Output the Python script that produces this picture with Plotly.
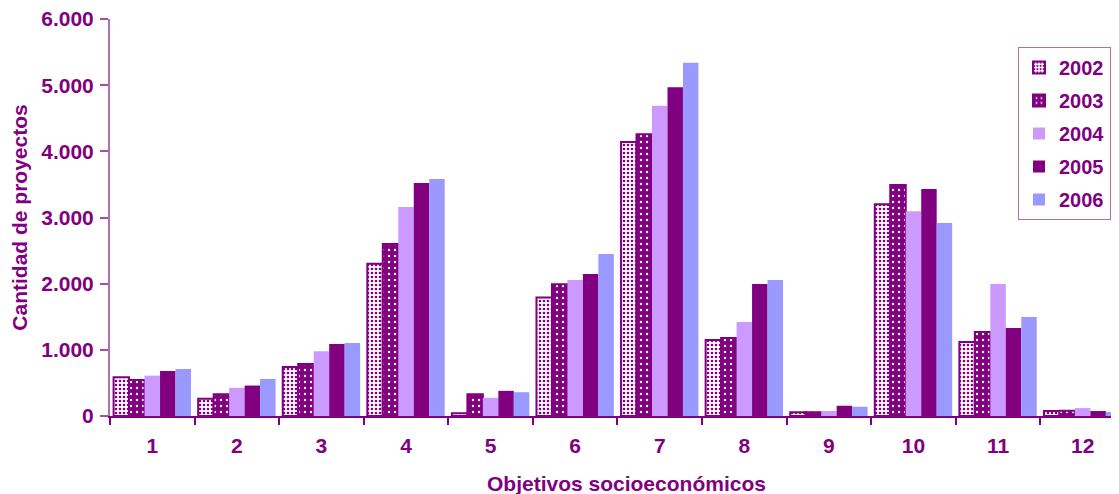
import plotly.graph_objects as go

categories = ["1", "2", "3", "4", "5", "6", "7", "8", "9", "10", "11", "12"]
years = ["2002", "2003", "2004", "2005", "2006"]
v2002 = [585, 262, 740, 2300, 40, 1790, 4140, 1150, 55, 3200, 1120, 75]
v2003 = [545, 330, 785, 2600, 330, 1990, 4260, 1180, 55, 3490, 1270, 80]
v2004 = [610, 425, 980, 3160, 275, 2055, 4690, 1420, 75, 3095, 1995, 120]
v2005 = [680, 460, 1090, 3520, 380, 2145, 4970, 1995, 155, 3430, 1330, 75]
v2006 = [710, 560, 1105, 3580, 360, 2450, 5340, 2055, 140, 2915, 1495, 60]
y_ticks = [0, 1000, 2000, 3000, 4000, 5000, 6000]

PURPLE = "#800080"
FONT = "Liberation Sans, Arial, sans-serif"

series = [v2002, v2003, v2004, v2005, v2006]
markers = [
    dict(color="white", line=dict(color=PURPLE, width=2),
         pattern=dict(shape=".", fgcolor=PURPLE, bgcolor="white", size=4, solidity=0.35, fillmode="replace")),
    dict(color=PURPLE, line=dict(color=PURPLE, width=2),
         pattern=dict(shape=".", fgcolor="white", bgcolor=PURPLE, size=6, solidity=0.12, fillmode="replace")),
    dict(color="#CC99FF", line=dict(width=0)),
    dict(color=PURPLE, line=dict(width=0)),
    dict(color="#9999FF", line=dict(width=0)),
]

# page body has an 8px margin; figure coordinates below are page coords minus 8
OFF = 8
W, H = 1119 - OFF, 494 - OFF
L, R, T, B = 110 - OFF, 1119 - OFF, 19 - OFF, 416 - OFF

fig = go.Figure()
for name, vals, mk in zip(years, series, markers):
    fig.add_trace(go.Bar(x=categories, y=vals, name=name, marker=mk, legendgroup=name))

fig.update_layout(
    width=W, height=H,
    margin=dict(l=L, r=W - R, t=T, b=H - B, autoexpand=False),
    paper_bgcolor="white", plot_bgcolor="white",
    separators=",.",
    barmode="group", bargap=0.085, bargroupgap=0,
    font=dict(family=FONT, size=21, color=PURPLE, weight="bold"),
    showlegend=True,
    legend=dict(x=(1111 - OFF - L) / (R - L), y=(B - (47 - OFF)) / (B - T),
                xanchor="right", yanchor="top",
                bordercolor="#B070B0", borderwidth=1, bgcolor="white",
                font=dict(family=FONT, size=20, color=PURPLE, weight="bold"),
                traceorder="grouped", tracegroupgap=4, itemwidth=30),
    xaxis=dict(
        type="category", range=[-0.5, 11.43], automargin=False,
        showline=True, linecolor=PURPLE, linewidth=2,
        ticks="outside", tickson="boundaries", ticklen=7, tickcolor=PURPLE, tickwidth=2,
        ticklabelstandoff=10, tickfont=dict(size=21), ticklabeloverflow="allow",
        showgrid=False, zeroline=False,
    ),
    yaxis=dict(
        range=[0, 6000], tickvals=y_ticks, tickformat=",d", automargin=False,
        showline=True, linecolor="#B070B0", linewidth=2,
        ticks="outside", ticklen=8, tickcolor="#A050A0", tickwidth=2,
        ticklabelstandoff=2, tickfont=dict(size=21), ticklabeloverflow="allow",
        showgrid=False, zeroline=False,
        title=dict(text="Cantidad de proyectos", standoff=12,
                   font=dict(family=FONT, size=21, color=PURPLE, weight="bold")),
    ),
    annotations=[dict(
        text="Objetivos socioeconómicos", xref="paper", yref="paper",
        x=(626 - OFF - L) / (R - L), y=(B - (483 - OFF)) / (B - T),
        xanchor="center", yanchor="middle", showarrow=False,
        font=dict(family=FONT, size=21, color=PURPLE, weight="bold"),
    )],
)

fig.write_html("out.html")
